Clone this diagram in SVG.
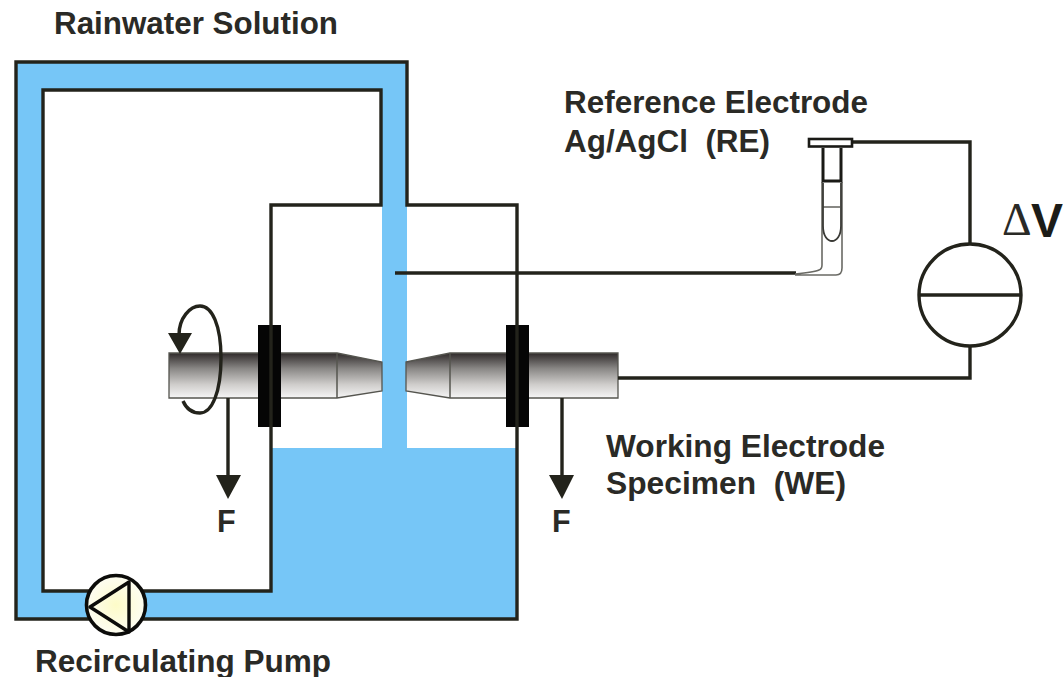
<svg xmlns="http://www.w3.org/2000/svg" width="1063" height="677" viewBox="0 0 1063 677">
<style>
.l{fill:none;stroke:#23231b;stroke-width:3.4}
.t{font-family:"Liberation Sans",Arial,sans-serif;font-weight:700;font-size:30.500px;fill:#2a2a26;white-space:pre}
.w{fill:#76c6f7}
.a{fill:#23231b}
.s{stroke:#55554f;stroke-width:1.5}
</style>
<defs>
<linearGradient id="g" x1="0" y1="0" x2="0" y2="1"><stop offset="0" stop-color="#2f2a2a"/><stop offset=".35" stop-color="#8a8886"/><stop offset=".7" stop-color="#cfcdcb"/><stop offset="1" stop-color="#f6f6f6"/></linearGradient>
<radialGradient id="p"><stop offset="0" stop-color="#fdfbc8"/><stop offset="1" stop-color="#fdfdf2"/></radialGradient>
</defs>
<g id="solution">
<path class="w" d="M16 62H407V448H517V619H16ZM43 90V591H271V448H382V90Z"/>
</g>
<g id="specimen">
<path fill="url(#g)" stroke="#55554f" stroke-width="1.3" d="M169 353H337L382 362V391L337 398H169Z"/>
<path fill="url(#g)" stroke="#55554f" stroke-width="1.3" d="M406 362L450 353H618V398H450L406 391Z"/>
<path class="s" d="M337 353V398M450 353V398"/>
</g>
<g id="clamps">
<rect x="258" y="325" width="23" height="102" fill="#050505"/>
<rect x="506" y="325" width="23" height="102" fill="#050505"/>
</g>
<g id="connectors">
<path class="l" d="M16 62H407V205H517V619H16Z"/>
<path class="l" d="M43 90H381V205H271V591H43Z"/>
<path class="l" d="M395 273H796"/>
<path fill="none" stroke="#6a6a64" stroke-width="1.6" d="M795 274C805 273 815 272 819 270Q822 269 822 265V182M842 182V268Q842 275 836 275H795"/>
<path class="l" d="M853 142H970V243M970 347V378H618"/>
<path class="l" d="M228 398V480M562 398V480"/>
<path class="l" d="M179 335C179 318 190 306 200 306C212 306 221 325 221 358C221 392 212 413 200 413C192 413 186 408 183 401"/>
<path class="a" d="M168 333H192L180 354ZM216 475H241L228 499ZM549 475H574L562 499Z"/>
</g>
<g id="reference-electrode">
<rect x="809" y="139" width="43" height="7.500" fill="#fff" stroke="#1a1a16" stroke-width="2.600"/>
<path fill="none" stroke="#1a1a16" stroke-width="3" d="M823 148V181H841V148"/>
<path fill="none" stroke="#55554f" stroke-width="1.400" d="M823 207H840"/>
<path fill="none" stroke="#3a3a36" stroke-width="1.800" d="M823 183V226C823 246 841 246 841 226V183"/>
</g>
<g id="pump">
<circle cx="116" cy="605" r="29.500" fill="url(#p)" stroke="#0c0c0a" stroke-width="3.600"/>
<path fill="none" stroke="#0c0c0a" stroke-width="3.400" stroke-linejoin="round" d="M90 607L129 582V632Z"/>
</g>
<g id="meter">
<circle cx="970" cy="295" r="51" fill="#fff" stroke="#23231b" stroke-width="3.400"/>
<path class="l" d="M919 295H1021"/>
</g>
<g id="labels">
<text class="t" x="54" y="34" textLength="284" lengthAdjust="spacingAndGlyphs">Rainwater Solution</text>
<text class="t" x="564" y="113" textLength="304" lengthAdjust="spacingAndGlyphs">Reference Electrode</text>
<text class="t" x="564" y="152" textLength="206" lengthAdjust="spacingAndGlyphs">Ag/AgCl  (RE)</text>
<text class="t" x="606" y="457" textLength="279" lengthAdjust="spacingAndGlyphs">Working Electrode</text>
<text class="t" x="606" y="494" textLength="240" lengthAdjust="spacingAndGlyphs">Specimen  (WE)</text>
<text class="t" x="35" y="672" textLength="296" lengthAdjust="spacingAndGlyphs">Recirculating Pump</text>
<text class="t" x="217" y="532">F</text>
<text class="t" x="552" y="532">F</text>
<text x="1002" y="235" font-family="'Liberation Serif',serif" font-size="46" fill="#2a2a26">Δ</text>
<text x="1031" y="237" font-family="'Liberation Sans',Arial,sans-serif" font-size="48" font-weight="700" fill="#1c1c18">V</text>
</g>
</svg>
